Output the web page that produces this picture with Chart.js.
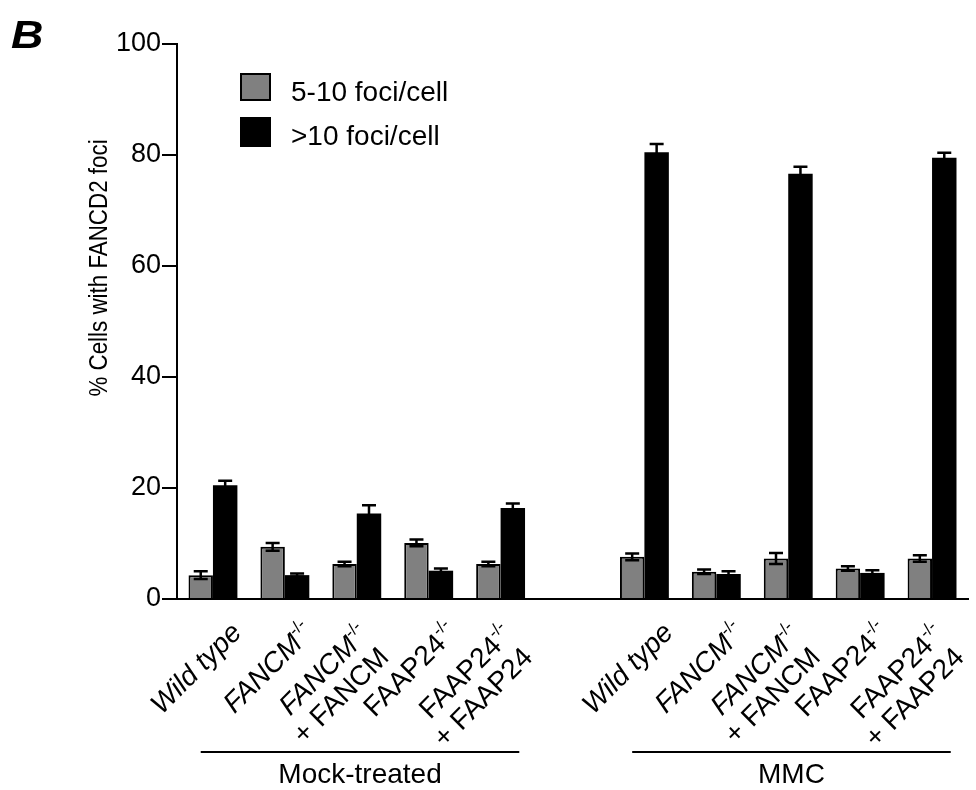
<!DOCTYPE html>
<html>
<head>
<meta charset="utf-8">
<script src="https://cdn.jsdelivr.net/npm/chart.js@4.4.1/dist/chart.umd.min.js"></script>
<style>
  body { margin: 0; background: #fff; }
  #wrap { width: 976px; height: 790px; position: relative; }
</style>
</head>
<body>
<div id="wrap"><canvas id="c"></canvas></div>
<script>
// categories (slot 5 is the empty gap between the two groups)
const categories = ['Wild type', 'FANCM-/-', 'FANCM-/- + FANCM', 'FAAP24-/-', 'FAAP24-/- + FAAP24', '',
                    'Wild type', 'FANCM-/-', 'FANCM-/- + FANCM', 'FAAP24-/-', 'FAAP24-/- + FAAP24'];

// 5-10 foci/cell
const grayVals = [4.3, 9.4, 6.3, 10.1, 6.3, null, 7.6, 4.9, 7.3, 5.5, 7.3];
const grayErr  = [0.7, 0.7, 0.4, 0.6, 0.4, null, 0.6, 0.4, 1.0, 0.4, 0.6];
// >10 foci/cell
const blackVals = [20.5, 4.3, 15.4, 5.1, 16.4, null, 80.5, 4.5, 76.6, 4.7, 79.5];
const blackErr  = [0.8, 0.3, 1.5, 0.4, 0.8, null, 1.5, 0.5, 1.3, 0.5, 0.9];

const yTicks = [0, 20, 40, 60, 80, 100];

// tick label lines: [text, style] with style 'i' italic, 's' superscript, '' plain
const wt = [[['Wild type', 'i']]];
const fancm = [[['FANCM', 'i'], ['-/-', 's']]];
const fancmRes = [[['FANCM', 'i'], ['-/-', 's']], [['+ FANCM', '']]];
const faap = [[['FAAP24', ''], ['-/-', 's']]];
const faapRes = [[['FAAP24', ''], ['-/-', 's']], [['+ FAAP24', '']]];
const xLabels = [wt, fancm, fancmRes, faap, faapRes, [], wt, fancm, fancmRes, faap, faapRes];

const groups = [
  { name: 'Mock-treated', from: 0, to: 4 },
  { name: 'MMC', from: 6, to: 10 }
];

const FONT = '"Liberation Sans", Arial, sans-serif';

function segFont(style) {
  if (style === 'i') return 'italic 28px ' + FONT;
  if (style === 's') return '17px ' + FONT;
  return '28px ' + FONT;
}

const extras = {
  id: 'extras',
  afterDatasetsDraw(chart) {
    const ctx = chart.ctx;
    const y = chart.scales.y;
    // error bars
    [[0, grayErr, grayVals], [1, blackErr, blackVals]].forEach(([di, errs, vals]) => {
      const meta = chart.getDatasetMeta(di);
      meta.data.forEach((bar, i) => {
        if (vals[i] == null) return;
        const top = y.getPixelForValue(vals[i] + errs[i]);
        const bot = y.getPixelForValue(vals[i] - errs[i]);
        ctx.save();
        ctx.strokeStyle = '#000';
        ctx.lineWidth = 2.5;
        ctx.beginPath();
        ctx.moveTo(bar.x, top); ctx.lineTo(bar.x, bot);
        ctx.moveTo(bar.x - 7, top); ctx.lineTo(bar.x + 7, top);
        ctx.moveTo(bar.x - 7, bot); ctx.lineTo(bar.x + 7, bot);
        ctx.stroke();
        ctx.restore();
      });
    });
  },
  afterDraw(chart) {
    const ctx = chart.ctx;
    const x = chart.scales.x;
    const pitch = x.getPixelForValue(1) - x.getPixelForValue(0);
    ctx.save();
    ctx.fillStyle = '#000';

    // panel letter
    ctx.save();
    ctx.translate(11, 48);
    ctx.scale(1.15, 1);
    ctx.font = 'italic bold 39px ' + FONT;
    ctx.textAlign = 'left';
    ctx.textBaseline = 'alphabetic';
    ctx.fillText('B', 0, 0);
    ctx.restore();

    // y title
    ctx.save();
    ctx.translate(107, 268);
    ctx.rotate(-Math.PI / 2);
    ctx.scale(0.86, 1);
    ctx.font = '26px ' + FONT;
    ctx.textAlign = 'center';
    ctx.fillText('% Cells with FANCD2 foci', 0, 0);
    ctx.restore();

    // legend
    ctx.lineWidth = 2;
    ctx.fillStyle = '#808080';
    ctx.fillRect(241, 74, 29, 26);
    ctx.strokeStyle = '#000';
    ctx.strokeRect(241, 74, 29, 26);
    ctx.fillStyle = '#000';
    ctx.fillRect(240, 117, 31, 30);
    ctx.font = '28px ' + FONT;
    ctx.fillText('5-10 foci/cell', 291, 101);
    ctx.fillText('>10 foci/cell', 291, 145);

    // rotated category labels
    xLabels.forEach((lines, i) => {
      if (!lines.length) return;
      const cx = x.getPixelForValue(i);
      const offs = lines.length === 1 ? [[0, 0]] : [[-13, -10], [-15, 20]];
      lines.forEach((segs, k) => {
        ctx.save();
        ctx.translate(cx + 30, 634);
        ctx.rotate(-Math.PI / 4);
        ctx.translate(offs[k][0], offs[k][1]);
        let w = 0;
        segs.forEach(([t, st]) => { ctx.font = segFont(st); w += ctx.measureText(t).width; });
        let px = -w;
        ctx.textAlign = 'left';
        segs.forEach(([t, st]) => {
          ctx.font = segFont(st);
          ctx.fillText(t, px, st === 's' ? -12 : 0);
          px += ctx.measureText(t).width;
        });
        ctx.restore();
      });
    });

    // group brackets
    groups.forEach(g => {
      const x0 = x.getPixelForValue(g.from) - pitch * 0.17;
      const x1 = x.getPixelForValue(g.to) + pitch * 0.26;
      ctx.lineWidth = 2;
      ctx.beginPath();
      ctx.moveTo(x0, 752); ctx.lineTo(x1, 752);
      ctx.stroke();
      ctx.font = '28px ' + FONT;
      ctx.textAlign = 'center';
      ctx.fillText(g.name, (x0 + x1) / 2, 783);
    });
    ctx.restore();
  }
};

new Chart(document.getElementById('c').getContext('2d'), {
  type: 'bar',
  plugins: [extras],
  data: {
    labels: categories,
    datasets: [{
      label: '5-10 foci/cell',
      data: grayVals,
      backgroundColor: '#808080',
      borderColor: '#000',
      borderWidth: 2,
      categoryPercentage: 0.68,
      barPercentage: 1.0
    }, {
      label: '>10 foci/cell',
      data: blackVals,
      backgroundColor: '#000',
      borderWidth: 0,
      categoryPercentage: 0.68,
      barPercentage: 1.0
    }]
  },
  options: {
    responsive: true,
    maintainAspectRatio: false,
    animation: false,
    events: [],
    layout: { padding: { left: 0, right: 8, top: 44, bottom: 0 } },
    plugins: {
      legend: { display: false },
      tooltip: { enabled: false }
    },
    scales: {
      x: {
        ticks: { display: false },
        grid: { display: false },
        border: { color: '#000', width: 2 },
        afterFit: (s) => { s.height = 191; }
      },
      y: {
        min: 0,
        max: 100,
        afterBuildTicks: (s) => { s.ticks = yTicks.map(v => ({ value: v })); },
        afterFit: (s) => { s.width = 177; },
        ticks: {
          color: '#000',
          padding: 1,
          font: { size: 27, family: FONT }
        },
        grid: { drawOnChartArea: false, tickLength: 15, color: '#000', lineWidth: 2 },
        border: { color: '#000', width: 2 }
      }
    }
  }
});
</script>
</body>
</html>
